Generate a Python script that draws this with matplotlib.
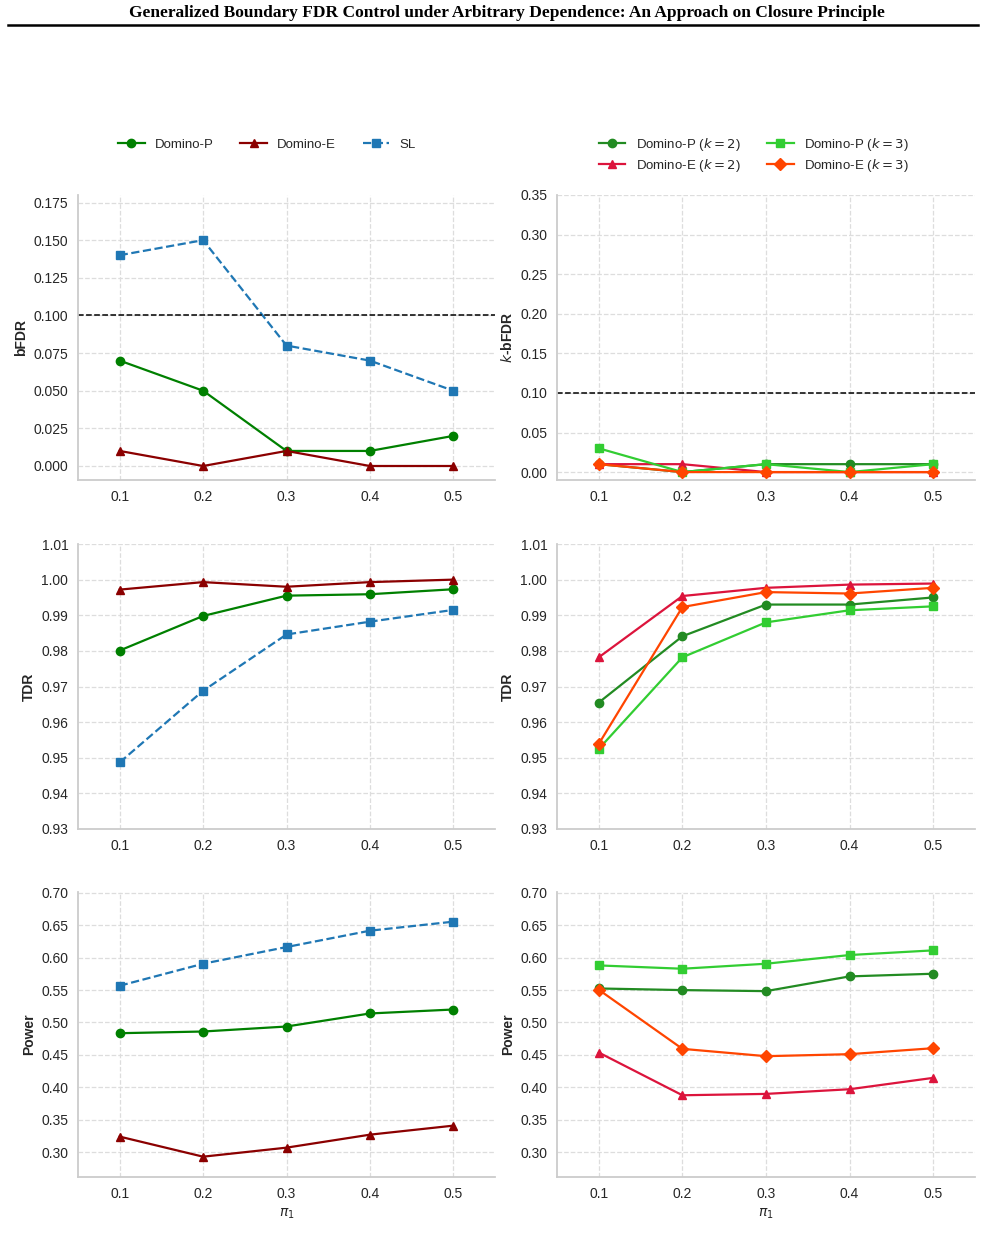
import matplotlib
matplotlib.use('Agg')
import matplotlib.pyplot as plt
from matplotlib.lines import Line2D

# data
pi1 = [0.1, 0.2, 0.3, 0.4, 0.5]

# left column: Domino-P, Domino-E, SL
bfdr_p = [0.07, 0.05, 0.01, 0.01, 0.02]
bfdr_e = [0.01, 0.00, 0.01, 0.00, 0.00]
bfdr_sl = [0.14, 0.15, 0.08, 0.07, 0.05]

tdr_p = [0.9801, 0.9898, 0.9955, 0.9959, 0.9973]
tdr_e = [0.9972, 0.9993, 0.9980, 0.9993, 1.0000]
tdr_sl = [0.9487, 0.9688, 0.9846, 0.9882, 0.9915]

pow_p = [0.4835, 0.4861, 0.4938, 0.5139, 0.5200]
pow_e = [0.3242, 0.2933, 0.3072, 0.3272, 0.3411]
pow_sl = [0.5566, 0.5905, 0.6162, 0.6414, 0.6553]

# right column: k = 2 and k = 3
kbfdr_p2 = [0.01, 0.00, 0.01, 0.01, 0.01]
kbfdr_p3 = [0.03, 0.00, 0.01, 0.00, 0.01]
kbfdr_e2 = [0.01, 0.01, 0.00, 0.00, 0.00]
kbfdr_e3 = [0.01, 0.00, 0.00, 0.00, 0.00]

ktdr_p2 = [0.9655, 0.9841, 0.9930, 0.9930, 0.9950]
ktdr_p3 = [0.9525, 0.9782, 0.9880, 0.9914, 0.9925]
ktdr_e2 = [0.9782, 0.9954, 0.9977, 0.9986, 0.9989]
ktdr_e3 = [0.9539, 0.9923, 0.9965, 0.9961, 0.9977]

kpow_p2 = [0.5524, 0.5499, 0.5483, 0.5710, 0.5751]
kpow_p3 = [0.5879, 0.5828, 0.5905, 0.6039, 0.6111]
kpow_e2 = [0.4537, 0.3879, 0.3900, 0.3972, 0.4147]
kpow_e3 = [0.5504, 0.4594, 0.4481, 0.4512, 0.4604]

threshold = 0.1

plt.rcParams['font.family'] = ['Liberation Sans', 'DejaVu Sans']
plt.rcParams['font.size'] = 10
plt.rcParams['text.color'] = '#262626'
plt.rcParams['axes.labelcolor'] = '#262626'
plt.rcParams['xtick.color'] = '#262626'
plt.rcParams['ytick.color'] = '#262626'
plt.rcParams['mathtext.fontset'] = 'dejavusans'

W, H = 985, 1240
fig = plt.figure(figsize=(W / 100, H / 100), dpi=100)

# page header
fig.text(0.5145, 1 - 13 / H, 'Generalized Boundary FDR Control under Arbitrary Dependence: An Approach on Closure Principle',
         ha='center', va='center', fontsize=12.5, fontweight='bold', family='Liberation Serif', color='black')
fig.add_artist(Line2D([8 / W, 978 / W], [1 - 25 / H, 1 - 25 / H], color='black', lw=1.8))


def make_ax(x0, y_top, w):
    return fig.add_axes([x0 / W, 1 - (y_top + 285) / H, w / W, 285 / H])


def style(ax, ylim, yticks, ylabel, xlabel=None, fmt='%.2f'):
    ax.set_xlim(0.05, 0.55)
    ax.set_xticks(pi1)
    ax.set_ylim(*ylim)
    ax.set_yticks(yticks)
    ax.set_yticklabels([fmt % t for t in yticks])
    ax.grid(True, linestyle='--', color='#dddddd', lw=0.9)
    ax.set_axisbelow(True)
    for s in ['top', 'right']:
        ax.spines[s].set_visible(False)
    for s in ['left', 'bottom']:
        ax.spines[s].set_color('#cccccc')
        ax.spines[s].set_linewidth(1.3)
    ax.tick_params(length=0, pad=7, labelsize=10)
    ax.set_ylabel(ylabel, fontweight='bold', fontsize=10)
    if xlabel:
        ax.set_xlabel(xlabel, fontsize=10)


lkw = dict(lw=1.6, markersize=6)
lx, rx = 78, 557
tops = [195, 544, 892]
tdr_ticks = [0.93, 0.94, 0.95, 0.96, 0.97, 0.98, 0.99, 1.0, 1.01]
pow_ticks = [0.30, 0.35, 0.40, 0.45, 0.50, 0.55, 0.60, 0.65, 0.70]

# left column
ax1 = make_ax(lx, tops[0], 417)
ax1.plot(pi1, bfdr_p, color='green', marker='o', label='Domino-P', **lkw)
ax1.plot(pi1, bfdr_e, color='darkred', marker='^', label='Domino-E', **lkw)
ax1.plot(pi1, bfdr_sl, color='#1f77b4', marker='s', ls='--', label='SL', **lkw)
ax1.axhline(threshold, color='black', ls='--', lw=1.1)
style(ax1, (-0.0093, 0.18), [0, 0.025, 0.05, 0.075, 0.1, 0.125, 0.15, 0.175], 'bFDR', fmt='%.3f')

ax3 = make_ax(lx, tops[1], 417)
ax3.plot(pi1, tdr_p, color='green', marker='o', **lkw)
ax3.plot(pi1, tdr_e, color='darkred', marker='^', **lkw)
ax3.plot(pi1, tdr_sl, color='#1f77b4', marker='s', ls='--', **lkw)
style(ax3, (0.93, 1.01), tdr_ticks, 'TDR')

ax5 = make_ax(lx, tops[2], 417)
ax5.plot(pi1, pow_p, color='green', marker='o', **lkw)
ax5.plot(pi1, pow_e, color='darkred', marker='^', **lkw)
ax5.plot(pi1, pow_sl, color='#1f77b4', marker='s', ls='--', **lkw)
style(ax5, (0.262, 0.701), pow_ticks, 'Power', r'$\pi_1$')

# right column
ax2 = make_ax(rx, tops[0], 418)
ax2.plot(pi1, kbfdr_p2, color='forestgreen', marker='o', label='Domino-P ($k=2$)', **lkw)
ax2.plot(pi1, kbfdr_e2, color='crimson', marker='^', label='Domino-E ($k=2$)', **lkw)
ax2.plot(pi1, kbfdr_p3, color='limegreen', marker='s', label='Domino-P ($k=3$)', **lkw)
ax2.plot(pi1, kbfdr_e3, color='orangered', marker='D', label='Domino-E ($k=3$)', **lkw)
ax2.axhline(threshold, color='black', ls='--', lw=1.1)
style(ax2, (-0.01, 0.35), [0, 0.05, 0.1, 0.15, 0.2, 0.25, 0.3, 0.35], '$k$-bFDR')

ax4 = make_ax(rx, tops[1], 418)
ax4.plot(pi1, ktdr_p2, color='forestgreen', marker='o', **lkw)
ax4.plot(pi1, ktdr_e2, color='crimson', marker='^', **lkw)
ax4.plot(pi1, ktdr_p3, color='limegreen', marker='s', **lkw)
ax4.plot(pi1, ktdr_e3, color='orangered', marker='D', **lkw)
style(ax4, (0.93, 1.01), tdr_ticks, 'TDR')

ax6 = make_ax(rx, tops[2], 418)
ax6.plot(pi1, kpow_p2, color='forestgreen', marker='o', **lkw)
ax6.plot(pi1, kpow_e2, color='crimson', marker='^', **lkw)
ax6.plot(pi1, kpow_p3, color='limegreen', marker='s', **lkw)
ax6.plot(pi1, kpow_e3, color='orangered', marker='D', **lkw)
style(ax6, (0.262, 0.701), pow_ticks, 'Power', r'$\pi_1$')

# legends above the top row
h, l = ax1.get_legend_handles_labels()
fig.legend(h, l, loc='center', bbox_to_anchor=(267 / W, 1 - 145 / H), ncol=3, frameon=False,
           fontsize=9.5, columnspacing=2.0, handlelength=2.0)
h, l = ax2.get_legend_handles_labels()
fig.legend(h, l, loc='center', bbox_to_anchor=(754 / W, 1 - 155 / H), ncol=2, frameon=False,
           fontsize=9.5, columnspacing=2.0, handlelength=2.0, labelspacing=0.3)

fig.savefig('out.png', dpi=100)
